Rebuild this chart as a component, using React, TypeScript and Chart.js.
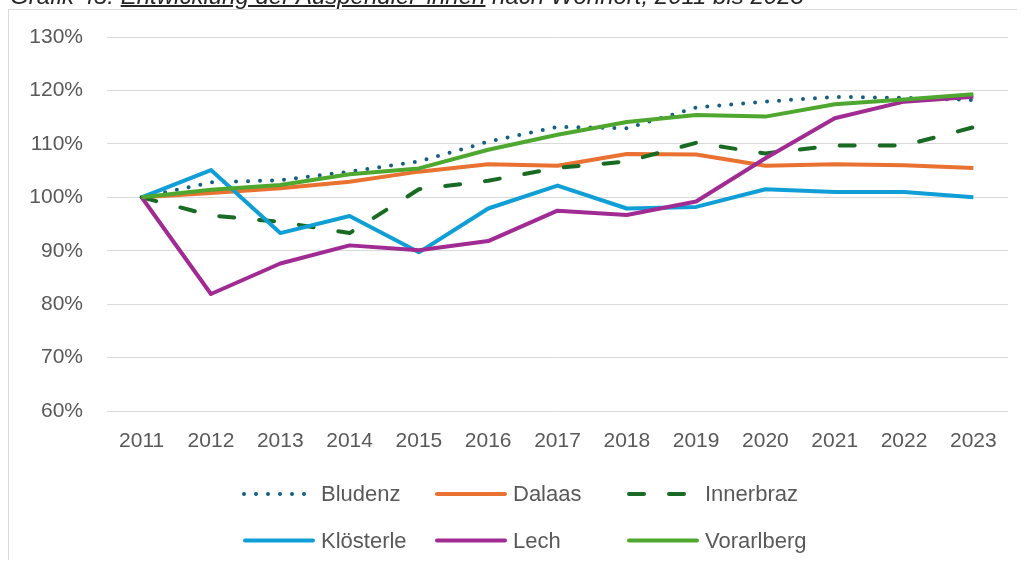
import React, { useEffect, useRef, useState } from "react";
import { Chart, registerables } from "chart.js";

Chart.register(...registerables);

const years = ["2011", "2012", "2013", "2014", "2015", "2016", "2017", "2018", "2019", "2020", "2021", "2022", "2023"];
const bludenz = [100, 102.8, 103.2, 104.8, 106.7, 110.4, 113.2, 112.9, 116.8, 117.9, 118.8, 118.6, 118.2];
const dalaas = [100, 100.8, 101.7, 102.9, 104.8, 106.2, 105.9, 108.1, 108.0, 105.9, 106.2, 106.0, 105.5];
const innerbraz = [100, 96.6, 95.4, 93.3, 101.5, 103.1, 105.5, 106.7, 110.2, 108.2, 109.7, 109.7, 113.1];
const kloesterle = [100, 105.1, 93.3, 96.5, 89.7, 97.9, 102.2, 97.9, 98.2, 101.5, 101.0, 101.0, 100.0];
const lech = [100, 81.9, 87.6, 91.0, 90.1, 91.8, 97.5, 96.7, 99.2, 107.3, 114.8, 117.9, 118.8];
const vorarlberg = [100, 101.4, 102.3, 104.3, 105.4, 108.9, 111.7, 114.1, 115.4, 115.1, 117.4, 118.3, 119.3];
const yMin = 60;
const yMax = 130;
const yStep = 10;

const FONT = "'Liberation Sans', Arial, sans-serif";
const TEXT = "#595959";

const legendPlugin = {
  id: "gridLegend",
  afterDraw(chart: any) {
    const ctx = chart.ctx;
    const cols = [234, 426, 618];
    const rows = [484, 530.5];
    chart.data.datasets.forEach((ds: any, i: number) => {
      const x = cols[i % 3];
      const y = rows[Math.floor(i / 3)];
      const dash: number[] = ds.borderDash ? ds.borderDash : [];
      const isDot = dash.length > 0 && dash[0] === 0;
      ctx.save();
      ctx.strokeStyle = ds.borderColor;
      ctx.lineWidth = ds.borderWidth;
      ctx.lineCap = "round";
      ctx.setLineDash(dash);
      ctx.beginPath();
      ctx.moveTo(x + (isDot ? 1 : 2), y);
      ctx.lineTo(x + (isDot ? 64 : 70), y);
      ctx.stroke();
      ctx.setLineDash([]);
      ctx.fillStyle = TEXT;
      ctx.font = "22px " + FONT;
      ctx.textBaseline = "middle";
      ctx.textAlign = "left";
      ctx.fillText(ds.label, x + 78, y + 1);
      ctx.restore();
    });
  },
};

function mk(label: string, data: number[], color: string, order: number, dash: number[]) {
  return {
    label,
    data,
    borderColor: color,
    backgroundColor: color,
    borderWidth: 4,
    borderDash: dash,
    borderCapStyle: dash.length ? "round" : "butt",
    borderJoinStyle: "round",
    pointRadius: 0,
    pointHoverRadius: 0,
    tension: 0,
    fill: false,
    order,
  };
}

export default function App() {
  const ref = useRef<HTMLCanvasElement | null>(null);
  const [err, setErr] = useState("");

  useEffect(() => {
    if (!ref.current) return;
    let chart: any = null;
    try {
      chart = new Chart(ref.current, {
        type: "line",
        data: {
          labels: years,
          datasets: [
            mk("Bludenz", bludenz, "#156082", 5, [0, 12]),
            mk("Dalaas", dalaas, "#E97132", 4, []),
            mk("Innerbraz", innerbraz, "#196B24", 3, [15, 25]),
            mk("Klösterle", kloesterle, "#0F9ED5", 2, []),
            mk("Lech", lech, "#A02B93", 1, []),
            mk("Vorarlberg", vorarlberg, "#4EA72E", 0, []),
          ] as any,
        },
        options: {
          responsive: false,
          animation: false,
          layout: { padding: { left: 0, right: 17, top: 27, bottom: 0 } },
          plugins: {
            legend: { display: false },
            tooltip: { enabled: false },
            title: { display: false },
          },
          scales: {
            x: {
              type: "category",
              offset: true,
              grid: { display: false, drawTicks: false },
              border: { display: false },
              ticks: { color: TEXT, font: { family: FONT, size: 21 }, padding: 18, maxRotation: 0, autoSkip: false },
              afterFit: (s: any) => {
                s.height = 157;
                s.paddingLeft = 0;
                s.paddingRight = 0;
              },
            },
            y: {
              min: yMin,
              max: yMax,
              grid: { color: "#D9D9D9", lineWidth: 1, drawTicks: false },
              border: { display: false },
              ticks: {
                stepSize: yStep,
                color: TEXT,
                font: { family: FONT, size: 21 },
                padding: 24,
                callback: (v: any) => v + "%",
              },
              afterFit: (s: any) => {
                s.width = 98;
                s.paddingTop = 0;
                s.paddingBottom = 0;
              },
            },
          },
        } as any,
        plugins: [legendPlugin],
      });
    } catch (e: any) {
      setErr(String(e && e.stack ? e.stack : e));
    }
    return () => {
      if (chart) chart.destroy();
    };
  }, []);

  return (
    <div style={{ position: "relative", width: 1017, height: 560, marginBottom: -8 }}>
      <div
        style={{
          position: "fixed",
          left: 10,
          top: -16,
          whiteSpace: "nowrap",
          fontFamily: FONT,
          fontStyle: "italic",
          fontSize: 24,
          lineHeight: "24px",
          color: "#262626",
          zIndex: 1,
        }}
      >
        Grafik 45: <span style={{ textDecoration: "underline", textUnderlineOffset: "1px" }}>Entwicklung der Auspendler*innen</span> nach Wohnort, 2011 bis 2023
      </div>
      <div
        style={{
          position: "absolute",
          left: 0,
          top: 1,
          width: 1016,
          height: 559,
          borderLeft: "1px solid #D9D9D9",
          borderTop: "1px solid #D9D9D9",
        }}
      >
        <canvas ref={ref} width={1016} height={558} style={{ display: "block" }} />
        {err ? <pre style={{ position: "absolute", top: 0, left: 0, fontSize: 10 }}>{err}</pre> : null}
      </div>
    </div>
  );
}
